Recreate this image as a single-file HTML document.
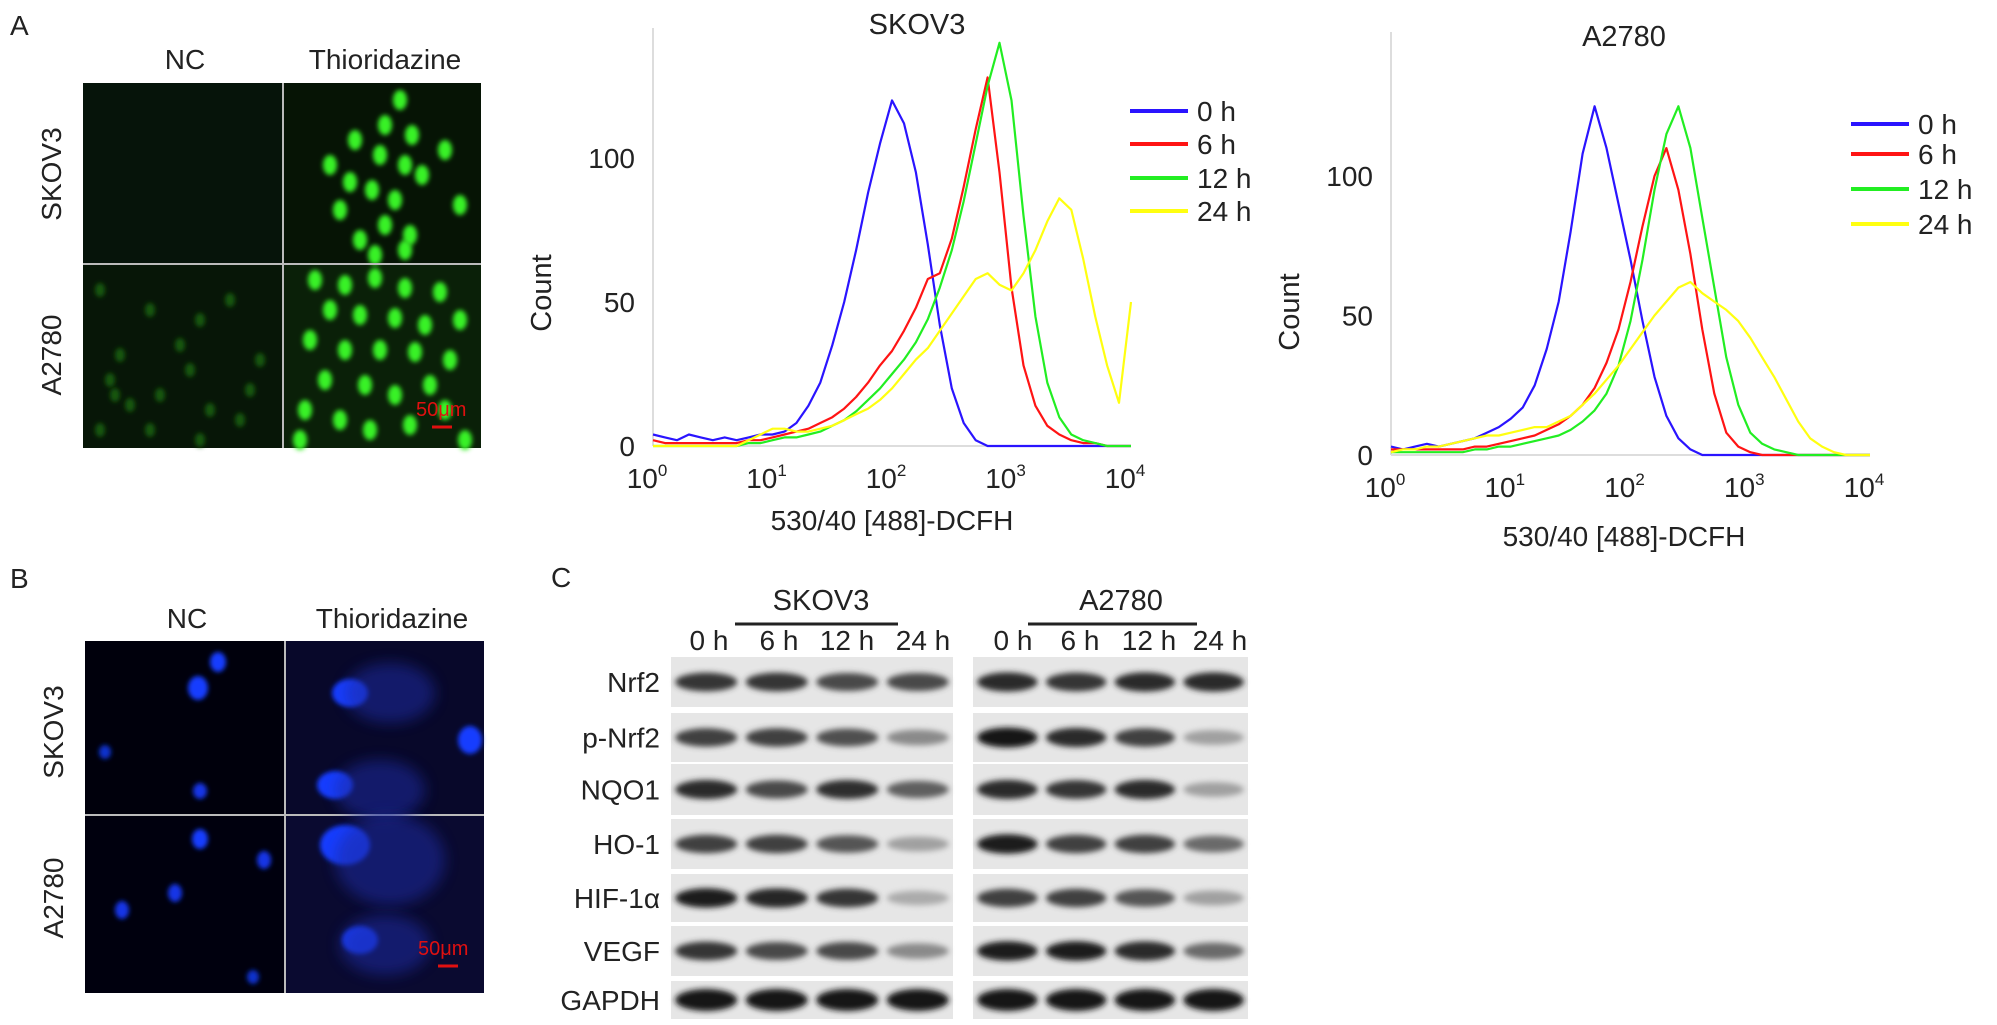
<!DOCTYPE html>
<html><head><meta charset="utf-8">
<style>
html,body{margin:0;padding:0;background:#fff;}
svg{display:block;}
text{font-family:"Liberation Sans",sans-serif;fill:#222;}
</style></head>
<body>
<svg id="fig" width="1997" height="1025" viewBox="0 0 1997 1025" xmlns="http://www.w3.org/2000/svg">
<defs>
<filter id="blur3" x="-50%" y="-50%" width="200%" height="200%"><feGaussianBlur stdDeviation="2.5"/></filter>
<filter id="blur6" x="-50%" y="-50%" width="200%" height="200%"><feGaussianBlur stdDeviation="7"/></filter>
<filter id="blur2" x="-20%" y="-100%" width="140%" height="300%"><feGaussianBlur stdDeviation="3"/></filter>
</defs>
<g id="panelA-img"></g>
<g id="panelB-img"></g>
<g id="plots"></g>
<g id="blots"></g>
</svg>
<script>
// ---- histogram data (counts per 0.1 decade bin, log10 x from 0 to 4) ----
const logBins = [0,0.1,0.2,0.3,0.4,0.5,0.6,0.7,0.8,0.9,1,1.1,1.2,1.3,1.4,1.5,1.6,1.7,1.8,1.9,2,2.1,2.2,2.3,2.4,2.5,2.6,2.7,2.8,2.9,3,3.1,3.2,3.3,3.4,3.5,3.6,3.7,3.8,3.9,4];
const seriesNames = ["0 h","6 h","12 h","24 h"];
const seriesColors = ["#2a14ff","#ff1414","#22ee22","#ffff10"];
const skovBlue   = [4,3,2,4,3,2,3,2,3,4,4,5,8,14,22,35,50,68,88,105,120,112,95,70,42,20,8,2,0,0,0,0,0,0,0,0,0,0,0,0,0];
const skovRed    = [2,1,1,1,1,1,1,1,2,2,3,4,5,6,8,10,13,17,22,28,33,40,48,58,60,72,90,110,128,95,55,28,14,7,4,2,1,1,0,0,0];
const skovGreen  = [0,0,0,0,0,0,0,0,1,1,2,3,3,4,5,7,9,12,16,20,25,30,36,44,55,68,85,105,125,140,120,80,45,22,10,4,2,1,0,0,0];
const skovYellow = [0,0,0,0,0,0,0,0,2,4,6,6,5,5,6,7,9,11,13,16,20,25,30,34,40,46,52,58,60,56,54,60,68,78,86,82,65,45,28,15,50];
const a27Blue    = [3,2,3,4,3,4,5,6,8,10,13,17,25,38,55,80,108,125,110,90,70,48,28,14,6,2,0,0,0,0,0,0,0,0,0,0,0,0,0,0,0];
const a27Red     = [2,2,2,2,2,2,2,3,3,4,5,6,7,9,11,14,18,24,33,45,62,82,100,110,95,72,45,22,8,3,1,0,0,0,0,0,0,0,0,0,0];
const a27Green   = [1,1,1,1,1,1,1,2,2,3,3,4,5,6,7,9,12,16,22,32,48,70,95,115,125,110,85,60,35,18,8,4,2,1,0,0,0,0,0,0,0];
const a27Yellow  = [1,2,2,3,3,4,5,6,7,7,8,9,10,10,12,14,18,22,27,32,38,44,50,55,60,62,58,55,52,48,42,35,28,20,12,6,3,1,0,0,0];
const yTickValues = [0,50,100];
const xTickExps = [0,1,2,3,4];
// ---- western blot band intensities (0..1) ----
const blotProteins = ["Nrf2","p-Nrf2","NQO1","HO-1","HIF-1\u03b1","VEGF","GAPDH"];
const timeLabels = ["0 h","6 h","12 h","24 h"];
const skovBands = [[0.85,0.85,0.75,0.75],[0.8,0.8,0.72,0.45],[0.9,0.75,0.88,0.65],[0.8,0.8,0.7,0.35],[0.95,0.92,0.85,0.3],[0.85,0.75,0.75,0.45],[1,1,1,1]];
const a27Bands  = [[0.9,0.85,0.9,0.9],[1,0.9,0.8,0.35],[0.9,0.85,0.9,0.35],[0.95,0.8,0.8,0.6],[0.8,0.8,0.7,0.35],[0.95,0.95,0.9,0.6],[1,1,1,1]];

const NS="http://www.w3.org/2000/svg";
function mk(tag, attrs, parent, txt){
  const e=document.createElementNS(NS,tag);
  for(const k in attrs) e.setAttribute(k,attrs[k]);
  if(txt!==undefined) e.textContent=txt;
  parent.appendChild(e); return e;
}

// ---------- histograms ----------
function drawHist(cfg, series){
  const g=document.getElementById('plots');
  const pg=mk('g',{},g);
  
  
  const xs = v => cfg.x0 + (v/4)*(cfg.x1-cfg.x0);
  const ys = c => cfg.y0 - c*cfg.ppc;
  const ax=mk('line',{x1:cfg.x0,y1:cfg.y0,x2:cfg.x0,y2:cfg.ytop,stroke:'#ddd','stroke-width':2},pg);
  
  
  const bx=mk('line',{x1:cfg.x0,y1:cfg.y0,x2:cfg.x1,y2:cfg.y0,stroke:'#ddd','stroke-width':2},pg);
  
  
  yTickValues.forEach(v=>{
    const t=mk('text',{x:cfg.x0-18,y:ys(v)+10,'text-anchor':'end','font-size':28},pg,String(v));
    
    
  });
  xTickExps.forEach(e=>{
    const t=mk('text',{x:xs(e)-6,y:cfg.y0+42,'text-anchor':'middle','font-size':28},pg);
    
    
    mk('tspan',{},t,'10');
    mk('tspan',{dy:-12,'font-size':17},t,String(e));
  });
  series.forEach((s,i)=>{
    const pts=s.map((c,j)=>xs(logBins[j]).toFixed(1)+','+ys(c).toFixed(1)).join(' ');
    const l=mk('polyline',{points:pts,fill:'none',stroke:seriesColors[i],'stroke-width':2.2,'stroke-linejoin':'round'},pg);
    
    
  });
  const tt=mk('text',{x:cfg.tx,y:cfg.ty,'text-anchor':'middle','font-size':29},pg,cfg.title);
  
  
  const yl=mk('text',{x:0,y:0,'text-anchor':'middle','font-size':29,transform:`translate(${cfg.cx},${cfg.cy}) rotate(-90)`},pg,'Count');
  
  
  const xl=mk('text',{x:cfg.lx,y:cfg.ly,'text-anchor':'middle','font-size':28},pg,'530/40 [488]-DCFH');
  
  
  seriesNames.forEach((n,i)=>{
    const y=cfg.legY[i];
    const le=mk('g',{},pg);
    
    
    mk('line',{x1:cfg.legX,y1:y,x2:cfg.legX+58,y2:y,stroke:seriesColors[i],'stroke-width':4},le);
    mk('text',{x:cfg.legX+67,y:y+10,'font-size':28},le,n);
  });
}
drawHist({name:'skov3-histogram',x0:653,x1:1131,y0:446,ytop:28,ppc:2.88,title:'SKOV3',tx:917,ty:34,cx:551,cy:293,lx:892,ly:530,legX:1130,legY:[111,144,178,211]},[skovBlue,skovRed,skovGreen,skovYellow]);
drawHist({name:'a2780-histogram',x0:1391,x1:1870,y0:455,ytop:32,ppc:2.79,title:'A2780',tx:1624,ty:46,cx:1299,cy:312,lx:1624,ly:546,legX:1851,legY:[124,154,189,224]},[a27Blue,a27Red,a27Green,a27Yellow]);

// ---------- micrographs ----------
function micro(gid, x0,y0,w,h, midx, midy, bgs, cells, col, blurId){
  const g=document.getElementById(gid);
  const quads=[[x0,y0,midx-x0,midy-y0],[midx,y0,x0+w-midx,midy-y0],[x0,midy,midx-x0,y0+h-midy],[midx,midy,x0+w-midx,y0+h-midy]];
  quads.forEach((q,i)=>{
    const r=mk('rect',{x:q[0],y:q[1],width:q[2],height:q[3],fill:bgs[i]},g);
    
    
  });
  cells.forEach(c=>{
    mk('ellipse',{cx:c[0],cy:c[1],rx:c[2],ry:c[3],fill:col(c[4]),filter:`url(#${blurId})`},g);
  });
  mk('line',{x1:midx,y1:y0,x2:midx,y2:y0+h,stroke:'#bbb','stroke-width':2},g);
  mk('line',{x1:x0,y1:midy,x2:x0+w,y2:midy,stroke:'#bbb','stroke-width':2},g);
}
const gcells=[];
const tPos=[[400,100],[385,125],[412,135],[355,140],[380,155],[405,165],[330,165],[350,182],[372,190],[395,200],[422,175],[385,225],[410,235],[375,255],[405,250],[460,205],[445,150],[360,240],[340,210],
[315,280],[345,285],[375,278],[405,288],[440,292],[330,310],[360,315],[395,318],[425,325],[460,320],[310,340],[345,350],[380,350],[415,352],[450,360],[325,380],[365,385],[395,395],[430,385],[305,410],[340,420],[370,430],[410,425],[445,410],[465,440],[300,440]];
tPos.forEach(p=>gcells.push([p[0],p[1],7,10,0.95]));
const nPos=[[110,380],[130,405],[160,395],[190,370],[210,410],[240,420],[100,430],[150,430],[200,440],[250,390],[120,355],[180,345],[260,360],[115,395],[230,300],[150,310],[100,290],[200,320]];
nPos.forEach(p=>gcells.push([p[0],p[1],5,7,0.35]));
micro('panelA-img',83,83,398,365,283,264,['#06140a','#061405','#071607','#0a2008'],gcells,b=>`rgba(${Math.round(60*b)},${Math.round(255*b)},${Math.round(40*b)},1)`,'blur3');
const bcells=[[218,662,8,10,1],[198,688,10,12,1],[105,752,6,7,0.8],[200,791,7,8,0.9],[200,839,8,10,1],[264,860,7,9,0.9],[175,893,7,9,0.9],[122,910,7,9,0.9],[253,977,6,7,0.8],
[350,693,18,14,1],[470,740,12,14,1],[335,785,18,14,1],[345,845,25,20,1],[360,940,18,14,1]];
micro('panelB-img',85,641,399,352,285,815,['#00000c','#08082a','#00000e','#0a0a30'],bcells,b=>`rgba(${Math.round(20*b)},${Math.round(60*b)},${Math.round(255*b)},1)`,'blur3');
[[390,693,45,30],[380,790,45,30],[390,860,55,45],[385,945,45,30]].forEach(c=>mk('ellipse',{cx:c[0],cy:c[1],rx:c[2],ry:c[3],fill:'#1a2aa0',opacity:0.55,filter:'url(#blur6)'},document.getElementById('panelB-img')));

// ---------- text labels for panels ----------
const lab=document.getElementById('fig');
function T(x,y,s,fs,name,anchor,rot){
  const t=mk('text',{x:x,y:y,'font-size':fs,'text-anchor':anchor||'middle'},lab,s);
  if(rot) t.setAttribute('transform',`rotate(-90 ${x} ${y})`);
  
  
}
T(10,35,'A',28,'panel-label-a','start');
T(10,588,'B',28,'panel-label-b','start');
T(551,587,'C',28,'panel-label-c','start');
T(185,69,'NC',28,'column-label-nc');T(385,69,'Thioridazine',28,'column-label-thioridazine');
T(187,628,'NC',28,'column-label-nc');T(392,628,'Thioridazine',28,'column-label-thioridazine');
T(61,174,'SKOV3',28,'row-label-skov3','middle',true);T(61,355,'A2780',28,'row-label-a2780','middle',true);
T(63,732,'SKOV3',28,'row-label-skov3','middle',true);T(63,898,'A2780',28,'row-label-a2780','middle',true);
mk('text',{x:416,y:416,'font-size':20,'font-family':'Liberation Serif',style:'fill:#e01010'},lab,'50\u03bcm');
mk('line',{x1:432,y1:427,x2:452,y2:427,stroke:'#e01010','stroke-width':3},lab);
mk('text',{x:418,y:955,'font-size':20,'font-family':'Liberation Serif',style:'fill:#e01010'},lab,'50\u03bcm');
mk('line',{x1:438,y1:966,x2:458,y2:966,stroke:'#e01010','stroke-width':3},lab);

// ---------- western blots ----------
const bg=document.getElementById('blots');
const rowY=[[657,707],[713,762],[764,815],[819,869],[874,922],[926,976],[981,1019]];
const panels=[{x0:671,x1:953,bands:skovBands,name:'SKOV3',cx:821,lineX:[735,898],lanes:[709,779,847,923]},
              {x0:973,x1:1248,bands:a27Bands,name:'A2780',cx:1121,lineX:[1028,1197],lanes:[1013,1080,1149,1220]}];
panels.forEach(p=>{
  T(p.cx,610,p.name,29,'blot-cell-line-label');
  mk('line',{x1:p.lineX[0],y1:624,x2:p.lineX[1],y2:624,stroke:'#222','stroke-width':3},bg);
  timeLabels.forEach((t,i)=>T(p.lanes[i],650,t,28,'lane-time-label'));
  const laneW=(p.x1-p.x0)/4;
  rowY.forEach((r,ri)=>{
    const rect=mk('rect',{x:p.x0,y:r[0],width:p.x1-p.x0,height:r[1]-r[0],fill:'#e6e6e6'},bg);
    
    
    const cy=(r[0]+r[1])/2;
    p.bands[ri].forEach((v,li)=>{
      const cx=p.x0+laneW*(li+0.5);
      const ry=ri===6?11:6+4*v;
      const g=Math.round(235-215*v);
      const b=mk('ellipse',{cx:cx,cy:cy,rx:laneW*0.44,ry:ry,fill:`rgb(${g},${g},${g})`,filter:'url(#blur2)'},bg);
      
      
    });
  });
});
rowY.forEach((r,ri)=>T(660,(r[0]+r[1])/2+10,blotProteins[ri],28,'protein-label','end'));
</script>
</body></html>
